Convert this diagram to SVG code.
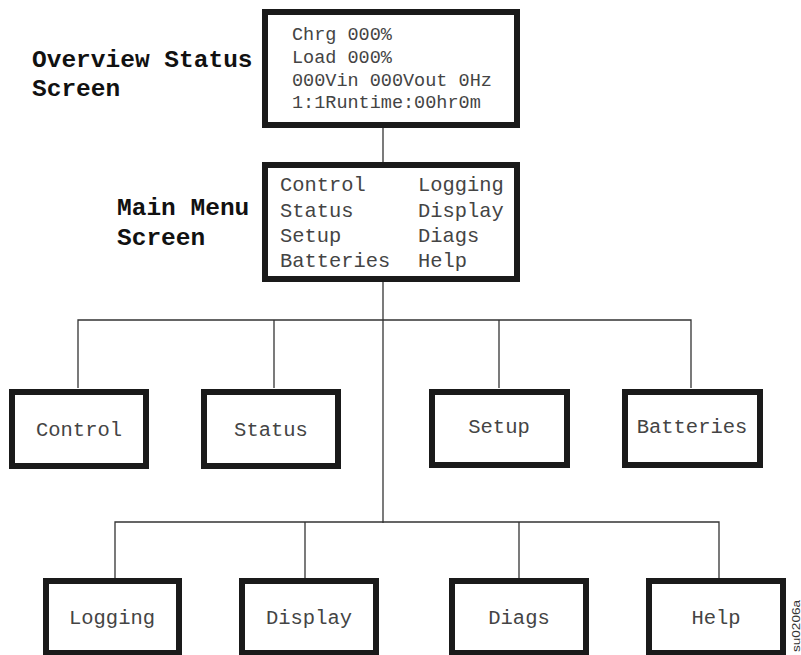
<svg xmlns="http://www.w3.org/2000/svg" width="801" height="655" viewBox="0 0 801 655">
<style>
.box{fill:#fff;stroke:#1a1a1a;stroke-width:6}
.mono{font-family:"Liberation Mono","Courier New",monospace;fill:#444}
.lbl{font-family:"Liberation Mono","Courier New",monospace;font-weight:bold;fill:#111;font-size:24.5px}
.c{text-anchor:middle;font-size:20.5px}
.wire{stroke:#333;stroke-width:1.3;fill:none}
</style>
<rect width="801" height="655" fill="#fff"/>
<g id="connectors">
<line class="wire" x1="383" y1="128" x2="383" y2="162"/>
<line class="wire" x1="383" y1="282" x2="383" y2="523"/>
<polyline class="wire" points="78,388 78,320 691,320 691,388"/>
<line class="wire" x1="274" y1="320" x2="274" y2="388"/>
<line class="wire" x1="499" y1="320" x2="499" y2="388"/>
<polyline class="wire" points="115,578 115,522 719,522 719,578"/>
<line class="wire" x1="305" y1="522" x2="305" y2="578"/>
<line class="wire" x1="519" y1="522" x2="519" y2="578"/>
</g>
<g id="overview-label">
<text class="lbl" x="32" y="67">Overview Status</text>
<text class="lbl" x="32" y="96">Screen</text>
</g>
<g id="overview">
<rect class="box" x="265" y="12" width="252" height="113"/>
<g class="mono" font-size="18.5">
<text x="292" y="40">Chrg 000%</text>
<text x="292" y="63">Load 000%</text>
<text x="292" y="86">000Vin 000Vout 0Hz</text>
<text x="292" y="108">1:1Runtime:00hr0m</text>
</g>
</g>
<g id="mainmenu-label">
<text class="lbl" x="117" y="215">Main Menu</text>
<text class="lbl" x="117" y="245">Screen</text>
</g>
<g id="mainmenu">
<rect class="box" x="265" y="165" width="252" height="114"/>
<g class="mono" font-size="20.4">
<text x="280" y="191">Control</text>
<text x="280" y="217">Status</text>
<text x="280" y="242">Setup</text>
<text x="280" y="267">Batteries</text>
<text x="418" y="191">Logging</text>
<text x="418" y="217">Display</text>
<text x="418" y="242">Diags</text>
<text x="418" y="267">Help</text>
</g>
</g>
<g id="control"><rect class="box" x="12" y="392" width="134" height="74"/><text class="mono c" x="79" y="436">Control</text></g>
<g id="status"><rect class="box" x="204" y="392" width="134" height="74"/><text class="mono c" x="271" y="436">Status</text></g>
<g id="setup"><rect class="box" x="432" y="392" width="135" height="73"/><text class="mono c" x="499" y="433">Setup</text></g>
<g id="batteries"><rect class="box" x="625" y="392" width="135" height="73"/><text class="mono c" x="692" y="433">Batteries</text></g>
<g id="logging"><rect class="box" x="46" y="581" width="133" height="72"/><text class="mono c" x="112" y="624">Logging</text></g>
<g id="display"><rect class="box" x="242" y="581" width="134" height="72"/><text class="mono c" x="309" y="624">Display</text></g>
<g id="diags"><rect class="box" x="452" y="581" width="134" height="72"/><text class="mono c" x="519" y="624">Diags</text></g>
<g id="help"><rect class="box" x="649" y="581" width="134" height="72"/><text class="mono c" x="716" y="624">Help</text></g>
<text x="0" y="0" transform="translate(800,652) rotate(-90)" font-family="'Liberation Sans',Arial,sans-serif" font-size="10.5" textLength="52" lengthAdjust="spacingAndGlyphs" fill="#333">su0206a</text>
</svg>
